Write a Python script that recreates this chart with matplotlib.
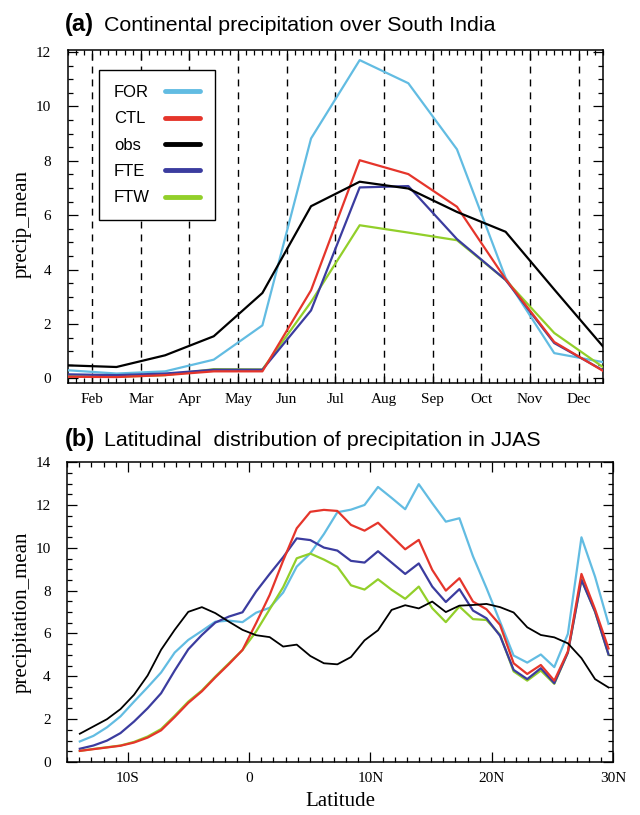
import matplotlib
matplotlib.use('Agg')
import matplotlib.pyplot as plt
from matplotlib.lines import Line2D
from matplotlib.ticker import MultipleLocator, FixedLocator

serif = 'Liberation Serif'
sans = 'Liberation Sans'

# --- (a) monthly means over South India ---
month_idx = list(range(12))
month_names = ['Feb', 'Mar', 'Apr', 'May', 'Jun', 'Jul', 'Aug', 'Sep', 'Oct', 'Nov', 'Dec']

for_a = [0.30, 0.18, 0.26, 0.69, 1.95, 8.82, 11.70, 10.85, 8.42, 3.70, 0.93, 0.60]
ctl_a = [0.06, 0.05, 0.12, 0.26, 0.26, 3.24, 8.02, 7.51, 6.31, 3.65, 1.34, 0.28]
obs_a = [0.48, 0.42, 0.85, 1.55, 3.14, 6.33, 7.23, 6.98, 6.12, 5.39, 3.27, 1.18]
fte_a = [0.15, 0.12, 0.18, 0.32, 0.32, 2.50, 7.02, 7.07, 5.12, 3.62, 1.30, 0.30]
ftw_a = [0.08, 0.06, 0.12, 0.34, 0.33, 2.81, 5.63, 5.36, 5.08, 3.62, 1.67, 0.42]

# --- (b) latitudinal distribution in JJAS ---
lat = [-13.96, -12.84, -11.72, -10.61, -9.49, -8.37, -7.26, -6.14, -5.02, -3.90,
       -2.79, -1.67, -0.55, 0.57, 1.69, 2.80, 3.92, 5.04, 6.16, 7.27,
       8.39, 9.51, 10.62, 11.74, 12.86, 13.98, 15.09, 16.21, 17.33, 18.45,
       19.56, 20.68, 21.80, 22.92, 24.04, 25.15, 26.27, 27.39, 28.51, 29.62]

obs_b = [1.32, 1.66, 2.00, 2.47, 3.14, 4.04, 5.24, 6.17, 7.01, 7.23,
         6.95, 6.55, 6.17, 5.92, 5.83, 5.39, 5.48, 4.95, 4.61, 4.56,
         4.90, 5.68, 6.15, 7.10, 7.32, 7.17, 7.49, 7.00, 7.30, 7.33,
         7.38, 7.23, 6.98, 6.29, 5.93, 5.82, 5.54, 4.85, 3.87, 3.48]
for_b = [0.96, 1.22, 1.62, 2.13, 2.82, 3.49, 4.18, 5.11, 5.70, 6.12,
         6.55, 6.60, 6.53, 6.97, 7.20, 7.91, 9.12, 9.74, 10.64, 11.66,
         11.78, 12.00, 12.84, 12.33, 11.80, 12.97, 12.08, 11.22, 11.38, 9.60,
         8.12, 6.55, 4.97, 4.64, 5.02, 4.43, 5.98, 10.49, 8.65, 6.45]
ctl_b = [0.52, 0.60, 0.68, 0.76, 0.91, 1.14, 1.48, 2.10, 2.76, 3.30,
         3.95, 4.57, 5.23, 6.48, 7.80, 9.40, 10.91, 11.68, 11.77, 11.72,
         11.07, 10.80, 11.17, 10.55, 9.93, 10.37, 8.97, 8.00, 8.58, 7.49,
         7.13, 6.40, 4.61, 4.11, 4.53, 3.80, 5.16, 8.78, 7.13, 5.30]
fte_b = [0.62, 0.77, 1.00, 1.35, 1.89, 2.51, 3.21, 4.27, 5.26, 5.93,
         6.51, 6.79, 6.99, 7.96, 8.78, 9.56, 10.44, 10.36, 10.01, 9.87,
         9.39, 9.31, 9.84, 9.31, 8.78, 9.27, 8.19, 7.47, 8.07, 7.07,
         6.71, 5.89, 4.30, 3.87, 4.38, 3.68, 5.11, 8.50, 7.02, 5.02]
ftw_b = [0.52, 0.61, 0.69, 0.77, 0.94, 1.19, 1.54, 2.16, 2.82, 3.34,
         3.99, 4.61, 5.23, 6.09, 7.13, 8.16, 9.51, 9.73, 9.45, 9.12,
         8.25, 8.05, 8.53, 8.04, 7.62, 8.19, 7.18, 6.53, 7.26, 6.67,
         6.63, 5.94, 4.23, 3.80, 4.27, 3.65, 5.11, 8.53, 7.02, 5.02]
lat_ticks = [-10, 0, 10, 20, 30]
lat_labels = ['10S', '0', '10N', '20N', '30N']

series_names = ['FOR', 'CTL', 'obs', 'FTE', 'FTW']

c_for = '#62BCE2'
c_ctl = '#E5352B'
c_obs = '#000000'
c_fte = '#3B3C9F'
c_ftw = '#92CF2A'

fig = plt.figure(figsize=(6.4, 8.15), dpi=100)

# ============ (a) ============
ax1 = fig.add_axes([0.106, 0.530, 0.836, 0.4086])
for m in range(11):
    ax1.axvline(m + 0.5, color='k', lw=1.0, ls=(0, (5, 4.3)), zorder=1)

ax1.plot(month_idx, for_a, color=c_for, lw=1.6, zorder=3)
ax1.plot(month_idx, ftw_a, color=c_ftw, lw=1.6, zorder=3)
ax1.plot(month_idx, fte_a, color=c_fte, lw=1.6, zorder=3)
ax1.plot(month_idx, ctl_a, color=c_ctl, lw=1.6, zorder=3)
ax1.plot(month_idx, obs_a, color=c_obs, lw=1.6, zorder=3)

ax1.set_xlim(0, 11)
ax1.set_ylim(-0.17, 12.07)
ax1.xaxis.set_major_locator(FixedLocator([m + 0.5 for m in range(11)]))
ax1.set_xticklabels(month_names)
ax1.xaxis.set_minor_locator(MultipleLocator(1 / 6))
ax1.yaxis.set_major_locator(MultipleLocator(2))
ax1.yaxis.set_minor_locator(MultipleLocator(0.5))

# legend with labels on the left of the lines
fs_leg = 12
pad_leg = 0.9
handles = [Line2D([], [], color=c, lw=3.5, solid_capstyle='round')
           for c in [c_for, c_ctl, c_obs, c_fte, c_ftw]]
leg = ax1.legend(handles, series_names, loc='upper left', bbox_to_anchor=(0.058, 0.94),
                 borderaxespad=0, markerfirst=False, fancybox=False, framealpha=1,
                 edgecolor='k', handlelength=2.1, handletextpad=pad_leg,
                 labelspacing=0.68, borderpad=0.9, prop={'family': sans, 'size': fs_leg})
leg.get_frame().set_linewidth(1.0)

# left-align the labels: widen the gap of the shorter rows
renderer = fig.canvas.get_renderer()
rows = [row for col in leg._legend_handle_box.get_children() for row in col.get_children()]
widths = [t.get_window_extent(renderer).width for t in leg.get_texts()]
for row, w in zip(rows, widths):
    row.sep = pad_leg * fs_leg + (max(widths) - w) * 72 / fig.dpi

fig.text(65 / 640, 1 - 31 / 815, '(a)', family=sans, weight='bold', size=17, va='baseline')
fig.text(104 / 640, 1 - 31 / 815, 'Continental precipitation over South India',
         family=sans, size=15.4, va='baseline')
fig.text(22 / 640, 1 - 224 / 815, 'precip_mean', family=serif, size=15,
         rotation=90, ha='center', va='center')

# ============ (b) ============
ax2 = fig.add_axes([0.105, 0.065, 0.853, 0.368])
ax2.plot(lat, for_b, color=c_for, lw=1.6, zorder=3)
ax2.plot(lat, ftw_b, color=c_ftw, lw=1.6, zorder=3)
ax2.plot(lat, fte_b, color=c_fte, lw=1.6, zorder=3)
ax2.plot(lat, ctl_b, color=c_ctl, lw=1.6, zorder=3)
ax2.plot(lat, obs_b, color=c_obs, lw=1.3, zorder=3)

ax2.set_xlim(-15, 30)
ax2.set_ylim(0, 14)
ax2.set_xticks(lat_ticks)
ax2.set_xticklabels(lat_labels)
ax2.xaxis.set_minor_locator(MultipleLocator(1))
ax2.yaxis.set_major_locator(MultipleLocator(2))
ax2.yaxis.set_minor_locator(MultipleLocator(0.5))

fig.text(65 / 640, 1 - 446 / 815, '(b)', family=sans, weight='bold', size=17, va='baseline')
fig.text(104 / 640, 1 - 446 / 815, 'Latitudinal  distribution of precipitation in JJAS',
         family=sans, size=15.4, va='baseline')
fig.text(22 / 640, 1 - 612 / 815, 'precipitation_mean', family=serif, size=15,
         rotation=90, ha='center', va='center')
fig.text(340 / 640, 1 - 801 / 815, 'Latitude', family=serif, size=15,
         ha='center', va='center')

for ax in (ax1, ax2):
    ax.tick_params(which='both', direction='in', top=True, right=True, width=0.9)
    ax.tick_params(which='major', length=7)
    ax.tick_params(which='minor', length=3.5)
    ax.tick_params(axis='x', which='major', pad=7)
    ax.tick_params(axis='y', which='major', pad=12)
    for lab in ax.get_xticklabels() + ax.get_yticklabels():
        lab.set_family(serif)
        lab.set_fontsize(11)
    for s in ax.spines.values():
        s.set_linewidth(1.1)

fig.savefig('out.png', dpi=100)
